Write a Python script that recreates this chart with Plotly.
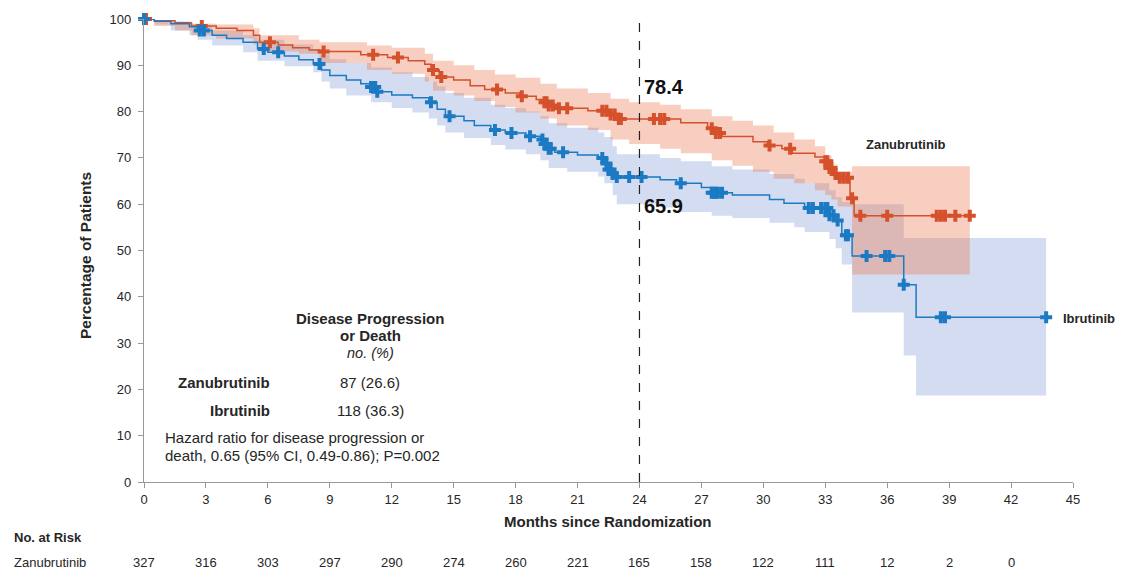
import numpy as np
import plotly.graph_objects as go

# ---------------- data ----------------
zanu_t = [0, 0.5, 1.5, 2.3, 3.5, 4.5, 5.3, 5.6, 6.5, 7.2, 8.0, 8.5, 10.5, 11.8, 12.8, 13.6, 13.9, 14.3,
          15.0, 15.8, 16.5, 17.5, 18.2, 19.0, 19.3, 19.6, 20.0, 21.5, 22.6, 23.0, 26.0, 27.3, 27.6,
          28.0, 29.5, 30.2, 30.9, 31.4, 32.5, 33.0, 33.2, 33.4, 33.6, 34.2, 34.4]
zanu_s = [100, 99.6, 99.2, 98.5, 98.0, 97.5, 96.5, 95.0, 94.4, 93.8, 93.3, 93.0, 92.3, 91.7, 91.0, 90.2, 89.0, 87.5,
          86.8, 85.6, 84.8, 84.0, 83.3, 82.6, 82.0, 81.3, 80.7, 80.2, 79.4, 78.4, 77.6, 76.4, 75.4,
          74.6, 73.5, 72.7, 72.0, 71.0, 70.2, 69.3, 67.8, 66.5, 65.7, 61.3, 57.5]
zanu_end = 40.0

ibru_t = [0, 0.5, 1.3, 2.2, 2.6, 3.3, 4.0, 4.8, 5.5, 6.0, 6.8, 7.5, 8.2, 8.6, 9.0, 9.8, 10.5, 11.0, 11.3,
          12.0, 13.0, 13.8, 14.2, 14.6, 15.5, 16.0, 16.8, 17.5, 18.5, 19.2, 19.4, 19.6, 19.9, 21.0, 22.0,
          22.3, 22.5, 22.7, 22.9, 25.0, 25.8, 27.0, 27.5, 28.5, 30.3, 31.0, 32.0, 33.2, 33.5, 33.8, 34.3,
          36.8, 37.4]
ibru_s = [100, 99.5, 99.0, 98.3, 97.5, 96.5, 95.8, 95.0, 93.5, 92.8, 92.0, 91.2, 90.3, 89.0, 87.8, 86.8, 86.0, 85.3, 84.3,
          83.6, 83.0, 82.0, 80.5, 79.0, 78.0, 77.0, 76.0, 75.4, 74.7, 74.0, 73.0, 72.0, 71.2, 70.6, 70.0,
          68.8, 67.5, 66.5, 65.9, 65.3, 64.5, 63.6, 62.5, 62.0, 61.0, 60.2, 59.2, 57.6, 56.5, 53.3, 48.8,
          42.6, 35.6]
ibru_end = 43.7

zanu_ci_t = [0, 0.5, 1.5, 2.3, 3.5, 5.3, 5.6, 7.5, 8.5, 10.8, 12.0, 13.6, 14.0, 15.0, 16.0, 17.0, 18.0,
             19.2, 20.0, 21.5, 22.6, 23.5, 25.0, 26.0, 27.5, 28.5, 29.5, 30.5, 31.5, 32.5, 33.0, 33.3,
             33.6, 34.3]
zanu_ci_up = [100, 99.5, 99.3, 99.0, 98.8, 98.0, 96.5, 95.5, 95.0, 94.3, 93.8, 92.5, 91.0, 90.0, 89.0, 88.0, 87.3,
              86.0, 85.0, 84.0, 82.8, 82.0, 81.5, 80.5, 79.0, 78.0, 77.0, 75.5, 74.0, 72.5, 70.5, 68.6,
              67.0, 68.2]
zanu_ci_lo = [100, 98.5, 97.5, 96.5, 95.8, 94.5, 93.0, 92.5, 90.5, 89.0, 88.2, 86.5, 84.5, 83.5, 82.3, 81.0, 79.8,
              78.5, 77.0, 76.0, 74.0, 73.0, 72.0, 71.0, 69.5, 68.3, 67.0, 65.5, 64.5, 63.0, 62.0, 61.0,
              59.5, 44.8]

ibru_ci_t = [0, 0.5, 1.3, 2.2, 2.6, 3.3, 4.8, 5.5, 6.8, 8.2, 8.6, 9.0, 9.8, 11.0, 12.0, 13.0, 13.8, 14.2,
             14.6, 15.5, 16.8, 17.5, 18.5, 19.2, 19.6, 20.5, 22.0, 22.3, 22.7, 22.9, 25.0, 26.0, 27.5, 28.5,
             30.3, 31.5, 32.0, 33.2, 33.5, 33.8, 34.3, 36.8, 37.4]
ibru_ci_up = [100, 99.8, 99.5, 99.0, 98.5, 97.5, 96.5, 95.5, 94.5, 93.5, 92.3, 91.3, 90.5, 89.5, 88.5, 87.5, 86.5, 85.5,
              84.0, 83.0, 81.5, 80.8, 80.0, 79.0, 77.5, 76.5, 75.5, 74.5, 72.5, 70.8, 70.0, 69.3, 68.2, 67.5,
              66.5, 65.5, 64.5, 63.0, 61.5, 60.5, 60.0, 52.7, 52.7]
ibru_ci_lo = [100, 98.8, 97.5, 96.5, 95.5, 94.3, 92.8, 91.0, 89.8, 88.5, 86.5, 85.0, 83.5, 82.0, 80.8, 79.8, 78.5, 77.0,
              75.5, 74.3, 72.8, 71.8, 70.8, 69.5, 67.8, 67.0, 66.0, 64.5, 62.0, 60.0, 59.3, 58.3, 57.5, 57.0,
              56.0, 55.0, 54.0, 52.5, 50.5, 47.0, 36.6, 27.3, 18.7]

zanu_censor = [0.1, 2.8, 6.1, 8.7, 11.1, 12.3, 14.0, 14.4, 17.1, 18.3, 19.4, 19.5, 19.6, 19.8, 20.1, 20.5,
               22.2, 22.4, 22.6, 22.8, 23.0, 23.1, 24.7, 25.0, 25.2, 27.5, 27.7, 27.9, 30.3, 31.3, 33.0,
               33.1, 33.2, 33.3, 33.5, 33.7, 33.9, 34.1, 34.3, 34.7, 36.0, 38.4, 38.6, 38.8, 39.3, 40.0]
ibru_censor = [0.0, 2.7, 2.9, 5.8, 6.5, 8.5, 11.0, 11.1, 11.2, 11.3, 13.9, 14.8, 17.0, 17.8, 18.7, 19.3,
               19.4, 19.5, 19.6, 19.7, 20.3, 22.2, 22.4, 22.5, 22.6, 22.7, 22.9, 23.5, 24.1, 26.0, 27.5,
               27.6, 27.7, 27.8, 28.0, 32.2, 32.4, 32.8, 33.0, 33.1, 33.2, 33.4, 33.6, 34.0, 34.1, 35.0,
               35.9, 36.1, 36.8, 38.6, 38.8, 43.7]

landmark_month = 24
landmark_values = [78.4, 65.9]

risk_months = [0, 3, 6, 9, 12, 15, 18, 21, 24, 27, 30, 33, 36, 39, 42]
zanu_risk = [327, 316, 303, 297, 290, 274, 260, 221, 165, 158, 122, 111, 12, 2, 0]

x_ticks = list(range(0, 46, 3))
y_ticks = list(range(0, 101, 10))

# ---------------- styling ----------------
ORANGE = "#D4512C"
BLUE = "#1C7AC3"
ORANGE_FILL = "rgba(232,120,80,0.36)"
BLUE_FILL = "rgba(110,140,205,0.30)"
FONT = "Arial, Liberation Sans, sans-serif"
TXT = "#262626"


def step_path(t, v, t_end):
    xs, ys = [], []
    for i in range(len(t)):
        nxt = t[i + 1] if i + 1 < len(t) else t_end
        xs += [t[i], nxt]
        ys += [v[i], v[i]]
    return xs, ys


def band_polygon(t, up, lo, t_end):
    xu, yu = step_path(t, up, t_end)
    xl, yl = step_path(t, lo, t_end)
    return xu + xl[::-1] + [xu[0]], yu + yl[::-1] + [yu[0]]


def surv_at(t, s, times):
    idx = np.searchsorted(np.array(t), np.array(times), side="right") - 1
    return [s[i] for i in idx]


fig = go.Figure()

bx, by = band_polygon(ibru_ci_t, ibru_ci_up, ibru_ci_lo, ibru_end)
fig.add_trace(go.Scatter(x=bx, y=by, fill="toself", fillcolor=BLUE_FILL, mode="lines",
                         line=dict(width=0), hoverinfo="skip", showlegend=False))
bx, by = band_polygon(zanu_ci_t, zanu_ci_up, zanu_ci_lo, zanu_end)
fig.add_trace(go.Scatter(x=bx, y=by, fill="toself", fillcolor=ORANGE_FILL, mode="lines",
                         line=dict(width=0), hoverinfo="skip", showlegend=False))

for t, s, end, col, cens, name in [
    (zanu_t, zanu_s, zanu_end, ORANGE, zanu_censor, "Zanubrutinib"),
    (ibru_t, ibru_s, ibru_end, BLUE, ibru_censor, "Ibrutinib"),
]:
    lx, ly = step_path(t, s, end)
    fig.add_trace(go.Scatter(x=lx, y=ly, mode="lines", line=dict(color=col, width=1.5),
                             name=name, showlegend=False, cliponaxis=False))
    fig.add_trace(go.Scatter(x=cens, y=surv_at(t, s, cens), mode="markers",
                             marker=dict(symbol="cross", size=10, color=col, line=dict(width=0)),
                             showlegend=False, cliponaxis=False))

fig.add_shape(type="line", x0=landmark_month, x1=landmark_month, y0=0, y1=100,
              xref="x", yref="y", line=dict(color="#222", width=1.2, dash="dash"))

INSET = 15
ann = []
ann.append(dict(x=landmark_month + 0.1, y=85.4, text=f"<b>{landmark_values[0]}</b>", xanchor="left",
                yanchor="middle", font=dict(size=20, color="#111")))
ann.append(dict(x=landmark_month + 0.1, y=59.6, text=f"<b>{landmark_values[1]}</b>", xanchor="left",
                yanchor="middle", font=dict(size=20, color="#111")))
ann.append(dict(x=34.9, y=73.0, text="<b>Zanubrutinib</b>", xanchor="left", yanchor="middle",
                font=dict(size=13, color=TXT)))
ann.append(dict(x=44.4, y=35.4, text="<b>Ibrutinib</b>", xanchor="left", yanchor="middle",
                font=dict(size=13, color=TXT)))
# inset table
ann.append(dict(x=10.95, y=35.3, text="<b>Disease Progression</b>", xanchor="center", yanchor="middle",
                font=dict(size=INSET, color=TXT)))
ann.append(dict(x=10.95, y=31.6, text="<b>or Death</b>", xanchor="center", yanchor="middle",
                font=dict(size=INSET, color=TXT)))
ann.append(dict(x=10.95, y=27.8, text="<i>no. (%)</i>", xanchor="center", yanchor="middle",
                font=dict(size=INSET - 0.5, color=TXT)))
ann.append(dict(x=6.2, y=21.5, text="<b>Zanubrutinib</b>", xanchor="right", yanchor="middle",
                font=dict(size=INSET, color=TXT)))
ann.append(dict(x=10.95, y=21.5, text="87 (26.6)", xanchor="center", yanchor="middle",
                font=dict(size=INSET, color=TXT)))
ann.append(dict(x=6.2, y=15.5, text="<b>Ibrutinib</b>", xanchor="right", yanchor="middle",
                font=dict(size=INSET, color=TXT)))
ann.append(dict(x=10.95, y=15.5, text="118 (36.3)", xanchor="center", yanchor="middle",
                font=dict(size=INSET, color=TXT)))
ann.append(dict(x=0.92, y=9.7, text="Hazard ratio for disease progression or", xanchor="left",
                yanchor="middle", font=dict(size=INSET, color=TXT)))
ann.append(dict(x=0.92, y=5.8, text="death, 0.65 (95% CI, 0.49-0.86); P=0.002", xanchor="left",
                yanchor="middle", font=dict(size=INSET, color=TXT)))

for a in ann:
    a.setdefault("xref", "x")
    a.setdefault("yref", "y")
    a["showarrow"] = False
    a["font"]["family"] = FONT

# pixel-based annotations (paper coordinates)
W, H = 1126, 572
ML, MR, MT, MB = 144, 53, 17, 90
pw, ph = W - ML - MR, H - MT - MB


def px(xp):
    return (xp - ML) / pw


def py(yp):
    return (H - MB - yp) / ph


ann.append(dict(xref="paper", yref="paper", x=px(608), y=py(522), text="<b>Months since Randomization</b>",
                showarrow=False, xanchor="center", yanchor="middle", font=dict(size=15, color=TXT, family=FONT)))
ann.append(dict(xref="paper", yref="paper", x=px(86), y=py(255), text="<b>Percentage of Patients</b>",
                textangle=-90, showarrow=False, xanchor="center", yanchor="middle",
                font=dict(size=15.5, color=TXT, family=FONT)))
ann.append(dict(xref="paper", yref="paper", x=px(12), y=py(538), text="<b>No. at Risk</b>",
                showarrow=False, xanchor="left", yanchor="middle", font=dict(size=13, color=TXT, family=FONT)))
ann.append(dict(xref="paper", yref="paper", x=px(12), y=py(563), text="Zanubrutinib",
                showarrow=False, xanchor="left", yanchor="middle", font=dict(size=13, color=TXT, family=FONT)))
for m, n in zip(risk_months, zanu_risk):
    ann.append(dict(xref="x", yref="paper", x=m, y=py(563), text=str(n), showarrow=False,
                    xanchor="center", yanchor="middle", font=dict(size=13, color=TXT, family=FONT)))

fig.update_layout(
    width=W, height=H,
    margin=dict(l=ML, r=MR, t=MT, b=MB),
    paper_bgcolor="white", plot_bgcolor="white",
    font=dict(family=FONT, color=TXT, size=13),
    annotations=ann,
    showlegend=False,
)
fig.update_xaxes(range=[0, 45], tickvals=x_ticks, ticks="outside", ticklen=5, tickcolor="#999",
                 showline=True, linecolor="#999", linewidth=1.3, showgrid=False, zeroline=False,
                 tickfont=dict(size=13, color=TXT, family=FONT))
fig.update_yaxes(range=[0, 100], tickvals=y_ticks, ticks="outside", ticklen=5, tickcolor="#999",
                 showline=True, linecolor="#999", linewidth=1.3, showgrid=False, zeroline=False,
                 tickfont=dict(size=13, color=TXT, family=FONT), ticklabelstandoff=4)

fig.write_html("out.html", config={"displayModeBar": False},
               post_script="document.body.style.margin='0';document.body.style.overflow='hidden';")
